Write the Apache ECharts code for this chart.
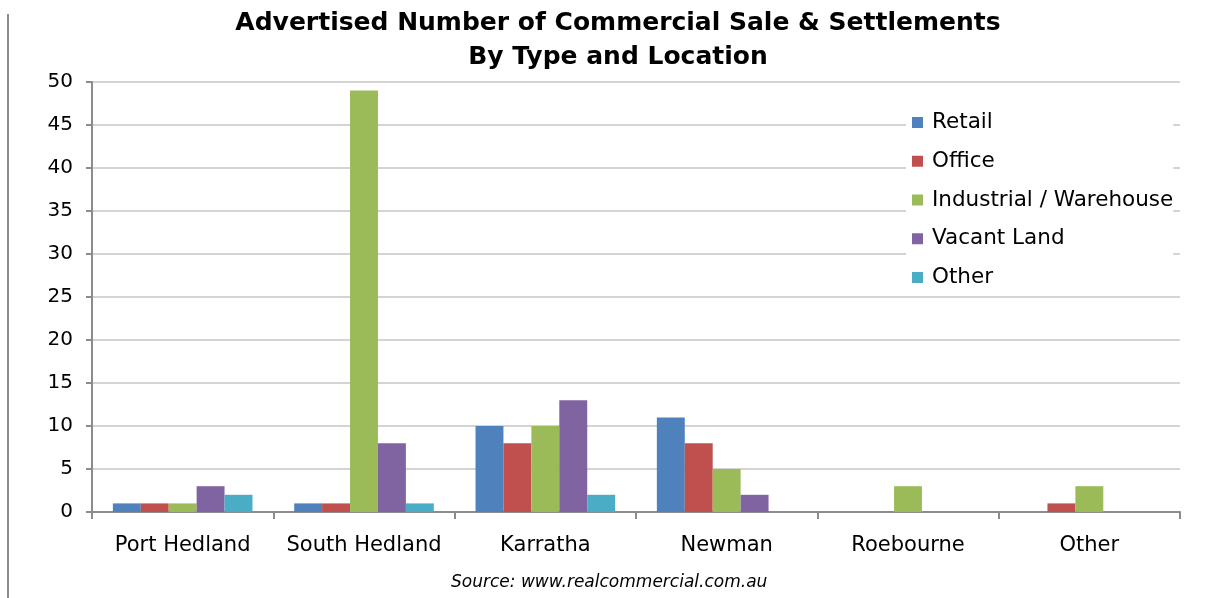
<!DOCTYPE html>
<html>
<head>
<meta charset="utf-8">
<script src="https://cdn.jsdelivr.net/npm/echarts@6/dist/echarts.min.js"></script>
<style>
  html, body { margin: 0; padding: 0; background: #fff; }
  #chart { width: 1205px; height: 598px; }
</style>
</head>
<body>
<div id="chart"></div>
<script>
// categories and series
const locations = ["Port Hedland", "South Hedland", "Karratha", "Newman", "Roebourne", "Other"];
const retail = [1, 1, 10, 11, 0, 0];
const office = [1, 1, 8, 8, 0, 1];
const industrial = [1, 49, 10, 5, 3, 3];
const vacantLand = [3, 8, 13, 2, 0, 0];
const other = [2, 1, 2, 0, 0, 0];
const seriesNames = ["Retail", "Office", "Industrial / Warehouse", "Vacant Land", "Other"];
const colors = ["#4F81BD", "#C0504D", "#9BBB59", "#8064A2", "#4BACC6"];

const font = "DejaVu Sans, Verdana, sans-serif";
const chart = echarts.init(document.getElementById("chart"));

const option = {
  animation: false,
  color: colors,
  title: {
    text: "Advertised Number of Commercial Sale & Settlements\nBy Type and Location",
    left: 613,
    top: 1,
    textAlign: "center",
    textStyle: { fontFamily: font, fontSize: 25, fontWeight: "bold", color: "#000", lineHeight: 34 }
  },
  legend: {
    orient: "vertical",
    left: 906,
    top: 105,
    itemWidth: 11,
    itemHeight: 11,
    itemGap: 11.75,
    icon: "rect",
    backgroundColor: "#fff",
    padding: [4, 0, 4, 6],
    textStyle: { fontFamily: font, fontSize: 21.5, lineHeight: 22, color: "#000", padding: [5, 0, 0, 4] },
    data: seriesNames
  },
  grid: { left: 92, right: 25, top: 82, bottom: 86, containLabel: false },
  xAxis: {
    type: "category",
    data: locations,
    axisLine: { lineStyle: { color: "#8c8c8c", width: 2 } },
    axisTick: { show: true, length: 7, lineStyle: { color: "#8c8c8c", width: 2 } },
    axisLabel: { fontFamily: font, fontSize: 21, color: "#000", margin: 23, interval: 0 }
  },
  yAxis: {
    type: "value",
    min: 0,
    max: 50,
    interval: 5,
    axisLine: { show: true, lineStyle: { color: "#8c8c8c", width: 2 } },
    axisTick: { show: true, length: 6, lineStyle: { color: "#8c8c8c", width: 2 } },
    axisLabel: { fontFamily: font, fontSize: 20, color: "#000", margin: 19 },
    splitLine: { lineStyle: { color: "#d4d4d4", width: 2 } }
  },
  series: [
    { name: seriesNames[0], type: "bar", data: retail, barGap: "0%", barCategoryGap: "23%" },
    { name: seriesNames[1], type: "bar", data: office, barGap: "0%", barCategoryGap: "23%" },
    { name: seriesNames[2], type: "bar", data: industrial, barGap: "0%", barCategoryGap: "23%" },
    { name: seriesNames[3], type: "bar", data: vacantLand, barGap: "0%", barCategoryGap: "23%" },
    { name: seriesNames[4], type: "bar", data: other, barGap: "0%", barCategoryGap: "23%" }
  ],
  graphic: [
    {
      type: "line",
      shape: { x1: 8, y1: 14, x2: 8, y2: 598 },
      style: { stroke: "#8c8c8c", lineWidth: 2 }
    },
    {
      type: "text",
      left: 451,
      top: 574,
      style: {
        text: "Source: www.realcommercial.com.au",
        font: "italic 17px " + font,
        fill: "#000"
      }
    }
  ]
};

chart.setOption(option);
</script>
</body>
</html>
